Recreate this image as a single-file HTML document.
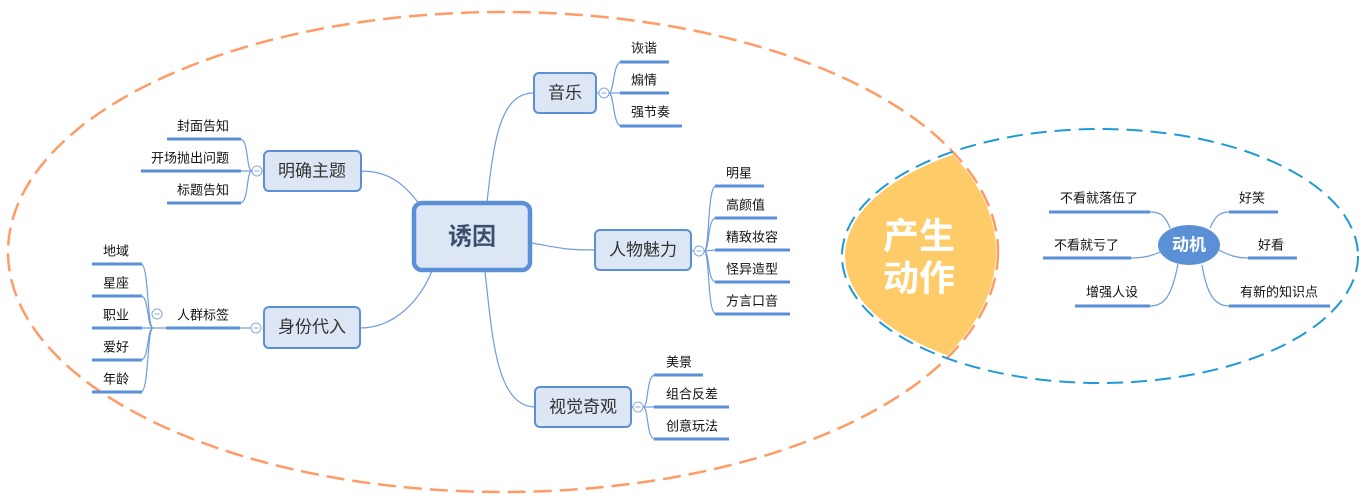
<!DOCTYPE html>
<html>
<head>
<meta charset="utf-8">
<style>
  html,body{margin:0;padding:0;background:#fff;}
  svg{display:block;}
  text{font-family:"Liberation Sans","Noto Sans CJK SC","WenQuanYi Zen Hei",sans-serif;dominant-baseline:central;}
  .leaf{font-size:13px;fill:#111;}
  .sub{font-size:17px;fill:#333;}
  .tl{stroke:#5B8FD6;stroke-width:3;fill:none;}
  .cv{stroke:#6F9CDA;stroke-width:1.2;fill:none;}
  .box{fill:#DCE6F4;stroke:#5B8FD6;stroke-width:2;}
  .cc{fill:#fff;stroke:#86A9DC;stroke-width:1;}
  .cm{stroke:#86A9DC;stroke-width:1;}
</style>
</head>
<body>
<svg width="1368" height="503" viewBox="0 0 1368 503" xmlns="http://www.w3.org/2000/svg">
  <defs>
    <clipPath id="oc"><ellipse cx="503" cy="252" rx="493" ry="238"/></clipPath>
  </defs>

  <!-- yellow lens -->
  <ellipse cx="1100" cy="256" rx="255" ry="124" fill="#FECB69" clip-path="url(#oc)"/>
  <text x="919" y="236" font-size="36" font-weight="bold" fill="#fff" text-anchor="middle">产生</text>
  <text x="919" y="278" font-size="36" font-weight="bold" fill="#fff" text-anchor="middle">动作</text>

  <!-- dashed ellipses -->
  <ellipse cx="503" cy="252" rx="495" ry="240" fill="none" stroke="#FF9B66" stroke-width="2.5" stroke-dasharray="18 8"/>
  <ellipse cx="1100" cy="256" rx="258" ry="127" fill="none" stroke="#1F9AD6" stroke-width="2" stroke-dasharray="16 8"/>

  <!-- central connections -->
  <path class="cv" d="M487 202 C494 140,500 93,534 93"/>
  <path class="cv" d="M532 243 C560 248,565 250,595 250"/>
  <path class="cv" d="M485 272 C492 330,495 407,535 407"/>
  <path class="cv" d="M361 171 C390 171,405 185,420 205"/>
  <path class="cv" d="M360 328 C395 328,420 300,432 271"/>

  <!-- central node -->
  <rect x="414" y="203" width="116" height="67" rx="8" fill="#DCE6F4" stroke="#5B8FD6" stroke-width="4.5"/>
  <text x="472" y="237" font-size="24" font-weight="bold" fill="#3B4F6E" text-anchor="middle">诱因</text>

  <!-- 音乐 -->
  <rect class="box" x="534" y="73" width="62" height="40" rx="5"/>
  <text class="sub" x="565" y="93" text-anchor="middle">音乐</text>
  <line class="cv" x1="597" y1="93" x2="599" y2="93"/>
  <path class="cv" d="M609 93 C614 93,613 62,621 62"/>
  <path class="cv" d="M609 93 L621 93"/>
  <path class="cv" d="M609 93 C614 93,613 126,621 126"/>
  <circle class="cc" cx="604" cy="93" r="5"/><line class="cm" x1="601.5" y1="93" x2="606.5" y2="93"/>
  <line class="tl" x1="620" y1="62" x2="669" y2="62"/>
  <line class="tl" x1="620" y1="93" x2="669" y2="93"/>
  <line class="tl" x1="620" y1="126" x2="682" y2="126"/>
  <text class="leaf" x="631" y="48">诙谐</text>
  <text class="leaf" x="631" y="80">煽情</text>
  <text class="leaf" x="631" y="112">强节奏</text>

  <!-- 人物魅力 -->
  <rect class="box" x="595" y="230" width="96" height="40" rx="5"/>
  <text class="sub" x="643" y="250" text-anchor="middle">人物魅力</text>
  <line class="cv" x1="692" y1="251" x2="694" y2="251"/>
  <path class="cv" d="M704 251 C710 251,707 186,716 186"/>
  <path class="cv" d="M704 251 C710 251,707 218,716 218"/>
  <path class="cv" d="M704 251 L716 250"/>
  <path class="cv" d="M704 251 C710 251,707 282,716 282"/>
  <path class="cv" d="M704 251 C710 251,707 314,716 314"/>
  <circle class="cc" cx="699" cy="251" r="5"/><line class="cm" x1="696.5" y1="251" x2="701.5" y2="251"/>
  <line class="tl" x1="715" y1="186" x2="764" y2="186"/>
  <line class="tl" x1="715" y1="218" x2="777" y2="218"/>
  <line class="tl" x1="715" y1="250" x2="790" y2="250"/>
  <line class="tl" x1="715" y1="282" x2="790" y2="282"/>
  <line class="tl" x1="715" y1="314" x2="790" y2="314"/>
  <text class="leaf" x="726" y="173">明星</text>
  <text class="leaf" x="726" y="205">高颜值</text>
  <text class="leaf" x="726" y="237">精致妆容</text>
  <text class="leaf" x="726" y="269">怪异造型</text>
  <text class="leaf" x="726" y="301">方言口音</text>

  <!-- 视觉奇观 -->
  <rect class="box" x="535" y="387" width="96" height="40" rx="5"/>
  <text class="sub" x="583" y="407" text-anchor="middle">视觉奇观</text>
  <line class="cv" x1="632" y1="407" x2="633" y2="407"/>
  <path class="cv" d="M643 407 C649 407,646 375,655 375"/>
  <path class="cv" d="M643 407 L655 407"/>
  <path class="cv" d="M643 407 C649 407,646 439,655 439"/>
  <circle class="cc" cx="638" cy="407" r="5"/><line class="cm" x1="635.5" y1="407" x2="640.5" y2="407"/>
  <line class="tl" x1="654" y1="375" x2="703" y2="375"/>
  <line class="tl" x1="654" y1="407" x2="729" y2="407"/>
  <line class="tl" x1="654" y1="439" x2="729" y2="439"/>
  <text class="leaf" x="666" y="362">美景</text>
  <text class="leaf" x="666" y="394">组合反差</text>
  <text class="leaf" x="666" y="426">创意玩法</text>

  <!-- 明确主题 -->
  <rect class="box" x="264" y="151" width="97" height="40" rx="5"/>
  <text class="sub" x="312" y="171" text-anchor="middle">明确主题</text>
  <line class="cv" x1="262" y1="171" x2="263" y2="171"/>
  <path class="cv" d="M252 171 C246 171,249 139,240 139"/>
  <path class="cv" d="M252 171 L240 171"/>
  <path class="cv" d="M252 171 C246 171,249 203,240 203"/>
  <circle class="cc" cx="257" cy="171" r="5"/><line class="cm" x1="254.5" y1="171" x2="259.5" y2="171"/>
  <line class="tl" x1="167" y1="139" x2="241" y2="139"/>
  <line class="tl" x1="141" y1="171" x2="241" y2="171"/>
  <line class="tl" x1="167" y1="203" x2="241" y2="203"/>
  <text class="leaf" x="229" y="126" text-anchor="end">封面告知</text>
  <text class="leaf" x="229" y="158" text-anchor="end">开场抛出问题</text>
  <text class="leaf" x="229" y="190" text-anchor="end">标题告知</text>

  <!-- 身份代入 -->
  <rect class="box" x="264" y="307" width="96" height="41" rx="5"/>
  <text class="sub" x="312" y="327" text-anchor="middle">身份代入</text>
  <line class="cv" x1="251" y1="328" x2="240" y2="328"/>
  <circle class="cc" cx="256" cy="328" r="5"/><line class="cm" x1="253.5" y1="328" x2="258.5" y2="328"/>
  <line class="tl" x1="166" y1="328" x2="240" y2="328"/>
  <text class="leaf" x="177" y="315">人群标签</text>
  <line class="cv" x1="166" y1="328" x2="141" y2="328"/>
  <path class="cv" d="M153 328 C147 328,149 264,141 264"/>
  <path class="cv" d="M153 328 C147 328,149 296,141 296"/>
  <path class="cv" d="M153 328 C147 328,149 360,141 360"/>
  <path class="cv" d="M153 328 C147 328,149 392,141 392"/>
  <circle class="cc" cx="157" cy="314" r="5"/><line class="cm" x1="154.5" y1="314" x2="159.5" y2="314"/>
  <line class="tl" x1="92" y1="264" x2="142" y2="264"/>
  <line class="tl" x1="92" y1="296" x2="142" y2="296"/>
  <line class="tl" x1="92" y1="328" x2="142" y2="328"/>
  <line class="tl" x1="92" y1="360" x2="142" y2="360"/>
  <line class="tl" x1="92" y1="392" x2="142" y2="392"/>
  <text class="leaf" x="103" y="251">地域</text>
  <text class="leaf" x="103" y="283">星座</text>
  <text class="leaf" x="103" y="315">职业</text>
  <text class="leaf" x="103" y="347">爱好</text>
  <text class="leaf" x="103" y="379">年龄</text>

  <!-- 动机 -->
  <path class="cv" d="M1170 228 C1165 215,1160 212,1150 212"/>
  <path class="cv" d="M1160 252 C1150 257,1140 258,1131 258"/>
  <path class="cv" d="M1178 264 C1172 295,1165 306,1150 306"/>
  <path class="cv" d="M1210 228 C1215 216,1220 212,1229 212"/>
  <path class="cv" d="M1219 250 C1230 256,1238 258,1248 258"/>
  <path class="cv" d="M1202 265 C1207 295,1215 306,1229 306"/>
  <ellipse cx="1189" cy="245" rx="31" ry="20" fill="#5B8FD6"/>
  <text x="1189" y="245" font-size="17" font-weight="bold" fill="#fff" text-anchor="middle">动机</text>
  <line class="tl" x1="1049" y1="212" x2="1150" y2="212"/>
  <line class="tl" x1="1043" y1="258" x2="1131" y2="258"/>
  <line class="tl" x1="1075" y1="306" x2="1150" y2="306"/>
  <line class="tl" x1="1229" y1="212" x2="1278" y2="212"/>
  <line class="tl" x1="1248" y1="258" x2="1297" y2="258"/>
  <line class="tl" x1="1229" y1="306" x2="1330" y2="306"/>
  <text class="leaf" x="1060" y="198">不看就落伍了</text>
  <text class="leaf" x="1054" y="245">不看就亏了</text>
  <text class="leaf" x="1086" y="292">增强人设</text>
  <text class="leaf" x="1239" y="198">好笑</text>
  <text class="leaf" x="1258" y="245">好看</text>
  <text class="leaf" x="1240" y="292">有新的知识点</text>
</svg>
</body>
</html>
